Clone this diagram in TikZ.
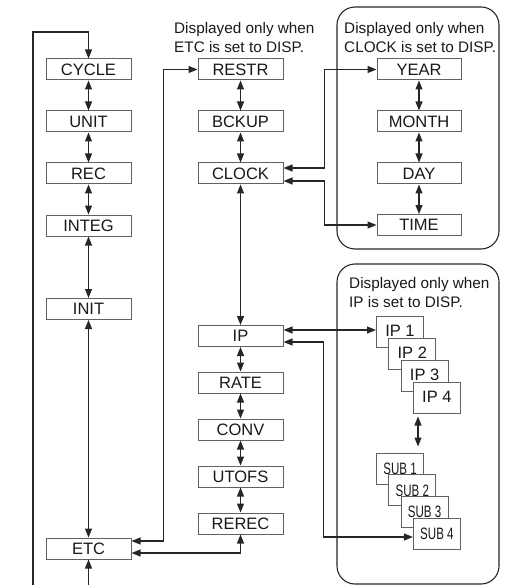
\documentclass[tikz,border=0pt]{standalone}
\usepackage{fontspec}
\setmainfont{Liberation Sans}
\usepackage{graphicx}
\usetikzlibrary{arrows.meta,calc}
\begin{document}
\tikzset{
 mbox/.style={draw=black!62, line width=1pt, fill=white, minimum width=85pt, minimum height=21pt, inner sep=0pt, font=\fontsize{16.5}{18}\selectfont, text=black!90},
 rbox/.style={mbox, minimum width=84pt},
 stk/.style={mbox, minimum width=47pt, minimum height=31pt, text height=20.5pt, text depth=10.5pt},
 subbox/.style={stk, font=\fontsize{16.5}{18}\selectfont, text height=21.5pt, text depth=9.5pt},
 conn/.style={draw=black!85, line width=1.1pt},
 arr/.style={conn, -{Triangle[length=9pt,width=7pt]}},
 darr/.style={conn, {Triangle[length=9pt,width=7pt]}-{Triangle[length=9pt,width=7pt]}},
 panel/.style={draw=black!85, line width=1.1pt, rounded corners=18pt},
 captxt/.style={anchor=north west, inner sep=0pt, align=left, font=\fontsize{15.3}{19.2}\selectfont, text=black!90},
}
\begin{tikzpicture}[x=1pt,y=-1pt]
\useasboundingbox (0,0) rectangle (519,585);
% panels
\draw[panel] (337,7) rectangle (499,249);
\draw[panel] (337,264) rectangle (499,584);
% captions
\node[captxt] (cap1) at (174,22.5) {Displayed only when\\ETC is set to DISP.};
\node[captxt] (cap2) at (344,22.5) {Displayed only when\\CLOCK is set to DISP.};
\node[captxt] (cap3) at (349,277.5) {Displayed only when\\IP is set to DISP.};
% left column
\node[mbox] (cycle) at (88.5,69.5) {CYCLE};
\node[mbox] (unit) at (88.5,121.5) {UNIT};
\node[mbox] (rec) at (88.5,173.5) {REC};
\node[mbox] (integ) at (88.5,225.5) {INTEG};
\node[mbox] (init) at (88.5,309) {INIT};
\node[mbox] (etc) at (88.5,548.5) {ETC};
% middle column
\node[mbox] (restr) at (240.5,69.5) {RESTR};
\node[mbox] (bckup) at (240.5,121.5) {BCKUP};
\node[mbox] (clock) at (240.5,173.5) {CLOCK};
\node[mbox] (ip) at (240.5,336) {IP};
\node[mbox] (rate) at (240.5,382.5) {RATE};
\node[mbox] (conv) at (240.5,429.5) {CONV};
\node[mbox] (utofs) at (240.5,476.5) {UTOFS};
\node[mbox] (rerec) at (240.5,523.5) {REREC};
% clock column
\node[rbox] (year) at (419,69.5) {YEAR};
\node[rbox] (month) at (419,121.5) {MONTH};
\node[rbox] (day) at (419,173.5) {DAY};
\node[rbox] (time) at (419,225) {TIME};
% IP stack
\node[stk] (ip1) at (400,331.5) {IP 1};
\node[stk] (ip2) at (412.3,353.5) {IP 2};
\node[stk] (ip3) at (424.6,375.5) {IP 3};
\node[stk] (ip4) at (436.9,397.5) {IP 4};
% SUB stack
\node[subbox] (sub1) at (400,468.5) {\scalebox{0.7}[1]{SUB 1}};
\node[subbox] (sub2) at (412.3,490.2) {\scalebox{0.7}[1]{SUB 2}};
\node[subbox] (sub3) at (424.6,511.8) {\scalebox{0.7}[1]{SUB 3}};
\node[subbox] (sub4) at (436.9,533.5) {\scalebox{0.7}[1]{SUB 4}};
% left loop
\coordinate (lbot) at (33,585);
\coordinate (ltop) at (33,32);
\draw[arr] (lbot) -- (ltop) -| (cycle.north);
\coordinate (ebot) at (88.5,585);
\draw[arr] (ebot) -- (etc.south);
\draw[darr] (cycle) -- (unit);
\draw[darr] (unit) -- (rec);
\draw[darr] (rec) -- (integ);
\draw[darr] (integ) -- (init);
\draw[darr] (init) -- (etc);
% middle links
\draw[darr] (restr) -- (bckup);
\draw[darr] (bckup) -- (clock);
\draw[darr] (clock) -- (ip);
\draw[darr] (ip) -- (rate);
\draw[darr] (rate) -- (conv);
\draw[darr] (conv) -- (utofs);
\draw[darr] (utofs) -- (rerec);
\draw[darr] ([yshift=7.5pt]etc.east) -| ([xshift=-34pt]restr.west) -- (restr.west);
\draw[darr] ([yshift=-4.5pt]etc.east) -| (rerec.south);
% clock links
\draw[darr] ([yshift=5.5pt]clock.east) -| ([xshift=-52pt]year.west) -- (year.west);
\draw[darr] ([yshift=-7.5pt]clock.east) -| ([xshift=-52pt]time.west) -- (time.west);
\draw[darr] (year) -- (month);
\draw[darr] (month) -- (day);
\draw[darr] (day) -- (time);
% IP links
\draw[darr] ([yshift=6pt]ip.east) -- ([yshift=6pt]ip.east -| ip1.west);
\coordinate (subin) at ([yshift=-3.5pt]sub4.west);
\draw[darr] ([yshift=-6pt]ip.east) -| ([xshift=-89pt]subin) -- (subin);
\coordinate (ipa) at (418,416.5);
\coordinate (ipb) at (418,446.5);
\draw[darr] (ipa) -- (ipb);
\end{tikzpicture}
\end{document}
